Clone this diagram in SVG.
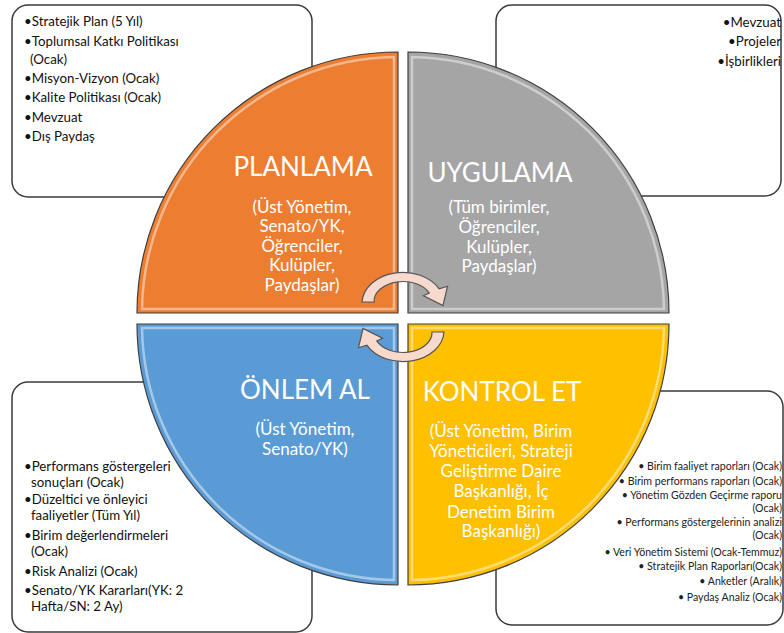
<svg xmlns="http://www.w3.org/2000/svg" width="784" height="633" viewBox="0 0 784 633">
<style>
.box{fill:#fff;stroke:#3a3a3a;stroke-width:1.5}
.bt{font-family:Lato,"Liberation Sans",sans-serif;font-size:13.3px;fill:#111}
.bs{font-family:Lato,"Liberation Sans",sans-serif;font-size:10.6px;fill:#222;text-anchor:end}
.q{stroke:#3f3f3f;stroke-width:1.2}
.hl{fill:none;stroke:#fff;stroke-opacity:.45;stroke-width:2.5}
.tt{font-family:Lato,"Liberation Sans",sans-serif;font-size:26px;fill:#fff;text-anchor:middle}
.st{font-family:Lato,"Liberation Sans",sans-serif;font-size:17px;fill:#fff;text-anchor:middle}
.arr{fill:#F7D9CE;stroke:#555;stroke-width:1.2}
</style>
<defs>
<path id="arrow" d="M362,302 A41,31 0 0 1 439.2,288.9 L447.5,286.3 L443,305.5 L423.5,295.7 L429.3,293.1 A29,20 0 0 0 374,302 Z"/>
</defs>
<g id="box-planlama">
<rect class="box" x="12" y="5" width="300" height="192" rx="16"/>
<text class="bt" x="24" y="26">•Stratejik Plan (5 Yıl)</text>
<text class="bt" x="24" y="46">•Toplumsal Katkı Politikası</text>
<text class="bt" x="30" y="64">(Ocak)</text>
<text class="bt" x="24" y="83">•Misyon-Vizyon (Ocak)</text>
<text class="bt" x="24" y="102">•Kalite Politikası (Ocak)</text>
<text class="bt" x="24" y="122">•Mevzuat</text>
<text class="bt" x="24" y="141">•Dış Paydaş</text>
</g>
<g id="box-uygulama">
<rect class="box" x="496" y="5" width="285" height="191" rx="16"/>
<text class="bt" x="781" y="27" text-anchor="end">•Mevzuat</text>
<text class="bt" x="781" y="46" text-anchor="end">•Projeler</text>
<text class="bt" x="781" y="66" text-anchor="end">•İşbirlikleri</text>
</g>
<g id="box-onlem">
<rect class="box" x="12" y="382" width="300" height="250" rx="16"/>
<text class="bt" x="24" y="471">•Performans göstergeleri</text>
<text class="bt" x="31" y="487">sonuçları (Ocak)</text>
<text class="bt" x="24" y="504">•Düzeltici ve önleyici</text>
<text class="bt" x="31" y="520">faaliyetler (Tüm Yıl)</text>
<text class="bt" x="24" y="540">•Birim değerlendirmeleri</text>
<text class="bt" x="31" y="556">(Ocak)</text>
<text class="bt" x="24" y="576">•Risk Analizi (Ocak)</text>
<text class="bt" x="24" y="595">•Senato/YK Kararları(YK: 2</text>
<text class="bt" x="31" y="611">Hafta/SN: 2 Ay)</text>
</g>
<g id="box-kontrol">
<rect class="box" x="496" y="391" width="287" height="234" rx="16"/>
<text class="bs" x="782" y="470">• Birim faaliyet raporları (Ocak)</text>
<text class="bs" x="782" y="485">• Birim performans raporları (Ocak)</text>
<text class="bs" x="782" y="499">• Yönetim Gözden Geçirme raporu</text>
<text class="bs" x="782" y="512">(Ocak)</text>
<text class="bs" x="782" y="526">• Performans göstergelerinin analizi</text>
<text class="bs" x="782" y="539">(Ocak)</text>
<text class="bs" x="782" y="556">• Veri Yönetim Sistemi (Ocak-Temmuz)</text>
<text class="bs" x="782" y="570">• Stratejik Plan Raporları(Ocak)</text>
<text class="bs" x="782" y="585">• Anketler (Aralık)</text>
<text class="bs" x="782" y="601">• Paydaş Analiz (Ocak)</text>
</g>
<g id="planlama">
<path class="q" fill="#ED7D31" d="M398,313 H137 A261,261 0 0 1 398,52 Z"/>
<path class="hl" d="M394,309 H142 A256,256 0 0 1 394,57 Z"/>
<text class="tt" x="303" y="176">PLANLAMA</text>
<text class="st" x="302" y="213">(Üst Yönetim,</text>
<text class="st" x="302" y="232">Senato/YK,</text>
<text class="st" x="302" y="252">Öğrenciler,</text>
<text class="st" x="302" y="271">Kulüpler,</text>
<text class="st" x="302" y="291">Paydaşlar)</text>
</g>
<g id="uygulama">
<path class="q" fill="#A5A5A5" d="M408,313 V52 A261,261 0 0 1 669,313 Z"/>
<path class="hl" d="M412,309 V57 A256,256 0 0 1 664,309 Z"/>
<text class="tt" x="500" y="182">UYGULAMA</text>
<text class="st" x="499" y="213">(Tüm birimler,</text>
<text class="st" x="499" y="233">Öğrenciler,</text>
<text class="st" x="499" y="253">Kulüpler,</text>
<text class="st" x="499" y="272">Paydaşlar)</text>
</g>
<g id="onlem-al">
<path class="q" fill="#5B9BD5" d="M398,324 V585 A261,261 0 0 1 137,324 Z"/>
<path class="hl" d="M394,328 V580 A256,256 0 0 1 142,328 Z"/>
<text class="tt" x="305" y="399">ÖNLEM AL</text>
<text class="st" x="305" y="435">(Üst Yönetim,</text>
<text class="st" x="305" y="455">Senato/YK)</text>
</g>
<g id="kontrol-et">
<path class="q" fill="#FFC000" d="M408,324 H669 A261,261 0 0 1 408,585 Z"/>
<path class="hl" d="M412,328 H664 A256,256 0 0 1 412,580 Z"/>
<text class="tt" x="502" y="401">KONTROL ET</text>
<text class="st" x="501" y="437">(Üst Yönetim, Birim</text>
<text class="st" x="501" y="457">Yöneticileri, Strateji</text>
<text class="st" x="501" y="477">Geliştirme Daire</text>
<text class="st" x="501" y="497">Başkanlığı, İç</text>
<text class="st" x="501" y="518">Denetim Birim</text>
<text class="st" x="501" y="537">Başkanlığı)</text>
</g>
<g id="connectors">
<use href="#arrow" class="arr"/>
<use href="#arrow" class="arr" transform="rotate(180 403 317)"/>
</g>
</svg>
